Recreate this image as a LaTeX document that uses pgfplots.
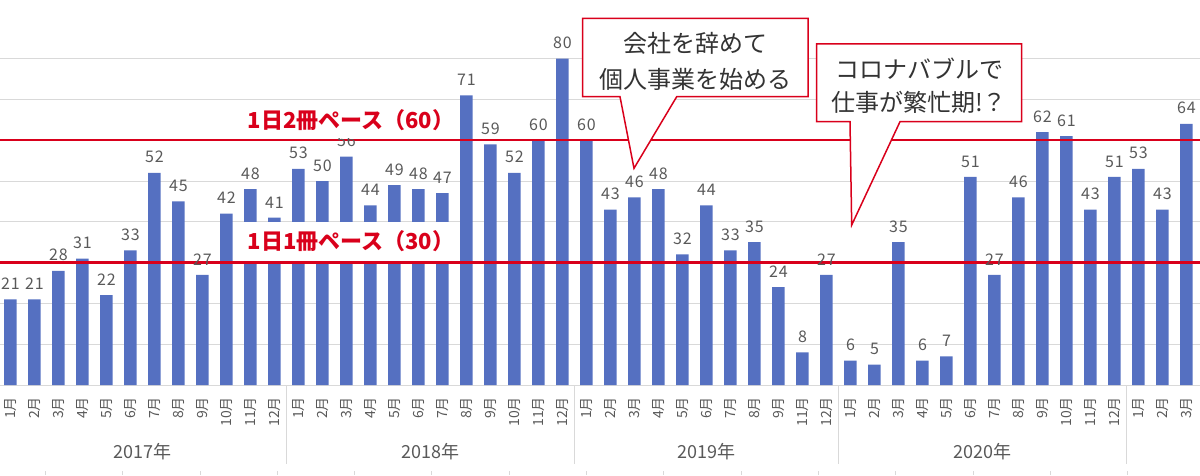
\documentclass[border=0pt]{standalone}
\usepackage{fontspec}
\setmainfont{Noto Sans CJK JP}
\usepackage{pgfplots}
\pgfplotsset{compat=1.18}
\definecolor{barblue}{HTML}{5570C1}
\definecolor{lred}{HTML}{D9001B}
\definecolor{lgray}{HTML}{D9D9D9}
\definecolor{tgray}{HTML}{595959}
\definecolor{ctext}{HTML}{333333}
\begin{document}
\begin{tikzpicture}[x=1pt,y=1pt]
\useasboundingbox (0,0) rectangle (1200,475);
\begin{axis}[at={(0pt,90pt)}, anchor=south west, scale only axis,
  width=1200pt, height=326.4pt,
  xmin=-0.4375, xmax=49.5625, ymin=0, ymax=80,
  /pgf/number format/assume math mode=true,
  axis line style={draw=none}, tick style={draw=none},
  ytick={0,10,...,80}, yticklabels={}, ymajorgrids,
  grid style={lgray, line width=1pt},
  xtick={0,...,49},
  xticklabels={1月,2月,3月,4月,5月,6月,7月,8月,9月,10月,11月,12月,
               1月,2月,3月,4月,5月,6月,7月,8月,9月,10月,11月,12月,
               1月,2月,3月,4月,5月,6月,7月,8月,9月,11月,12月,
               1月,2月,3月,4月,5月,6月,7月,8月,9月,10月,11月,12月,
               1月,2月,3月},
  xticklabel style={rotate=90, anchor=east, inner sep=0pt,
    font=\fontsize{14}{14}\selectfont, text=tgray},
  xticklabel shift=12pt,
  clip=false,
]
\addplot[ybar, bar width=12.5pt, fill=barblue, draw=none,
  nodes near coords,
  every node near coord/.append style={font=\fontsize{16}{16}\selectfont\addfontfeature{LetterSpace=6},
    text=tgray, inner sep=0pt, anchor=south, yshift=9.5pt}]
coordinates {
(0,21) (1,21) (2,28) (3,31) (4,22) (5,33) (6,52) (7,45) (8,27) (9,42) (10,48) (11,41)
(12,53) (13,50) (14,56) (15,44) (16,49) (17,48) (18,47) (19,71) (20,59) (21,52) (22,60) (23,80)
(24,60) (25,43) (26,46) (27,48) (28,32) (29,44) (30,33) (31,35) (32,24) (33,8) (34,27)
(35,6) (36,5) (37,35) (38,6) (39,7) (40,51) (41,27) (42,46) (43,62) (44,61) (45,43) (46,51)
(47,53) (48,43) (49,64)
};
\addplot[lred, line width=2.5pt, forget plot] coordinates {(-0.4375,30) (49.5625,30)};
\addplot[lred, line width=2.5pt, forget plot] coordinates {(-0.4375,60) (49.5625,60)};
\end{axis}
\begin{scope}[shift={(0pt,475pt)}, x=1pt, y=-1pt]
  % year separators
  \foreach \sx in {286.5,574.5,838.5,1126.5} {\draw[lgray, line width=1pt] (\sx,385) -- (\sx,464);}
  \foreach \tx in {45,122,200,277,354,431,509,586,663,741,818,895,973,1050,1127} {\draw[lgray, line width=1pt] (\tx,471) -- (\tx,475);}
  \foreach \yx/\yl in {142.5/2017年,430.5/2018年,706.5/2019年,982.5/2020年}
    {\node[text=tgray, font=\fontsize{18}{18}\selectfont, inner sep=0pt] at (\yx,452) {\yl};}
  % reference line labels
  \fill[white] (238,100) rectangle (455,138.5);
  \fill[white] (238,222) rectangle (455,261.2);
  \node[text=lred, font=\fontsize{22}{22}\selectfont\bfseries, inner sep=0pt] at (351,120.5) {1日2冊ペース（60）};
  \node[text=lred, font=\fontsize{22}{22}\selectfont\bfseries, inner sep=0pt] at (351,241.5) {1日1冊ペース（30）};
  % callouts
  \filldraw[fill=white, draw=lred, line width=1.5pt, line join=miter]
    (582.7,18.3) -- (808,18.3) -- (808,96.7) -- (676.7,96.7) -- (634,168.3) -- (620,96.7) -- (582.7,96.7) -- cycle;
  \node[text=ctext, font=\fontsize{24}{24}\selectfont, inner sep=0pt] at (695,43) {会社を辞めて};
  \node[text=ctext, font=\fontsize{24}{24}\selectfont, inner sep=0pt] at (695,79) {個人事業を始める};
  \filldraw[fill=white, draw=lred, line width=1.5pt, line join=miter]
    (816.7,44) -- (1021.7,44) -- (1021.7,121.7) -- (900,121.7) -- (851.7,225) -- (850,121.7) -- (816.7,121.7) -- cycle;
  \node[text=ctext, font=\fontsize{24}{24}\selectfont, inner sep=0pt] at (919,69) {コロナバブルで};
  \node[text=ctext, font=\fontsize{24}{24}\selectfont, inner sep=0pt] at (919,102) {仕事が繁忙期!？};
\end{scope}
\end{tikzpicture}
\end{document}
